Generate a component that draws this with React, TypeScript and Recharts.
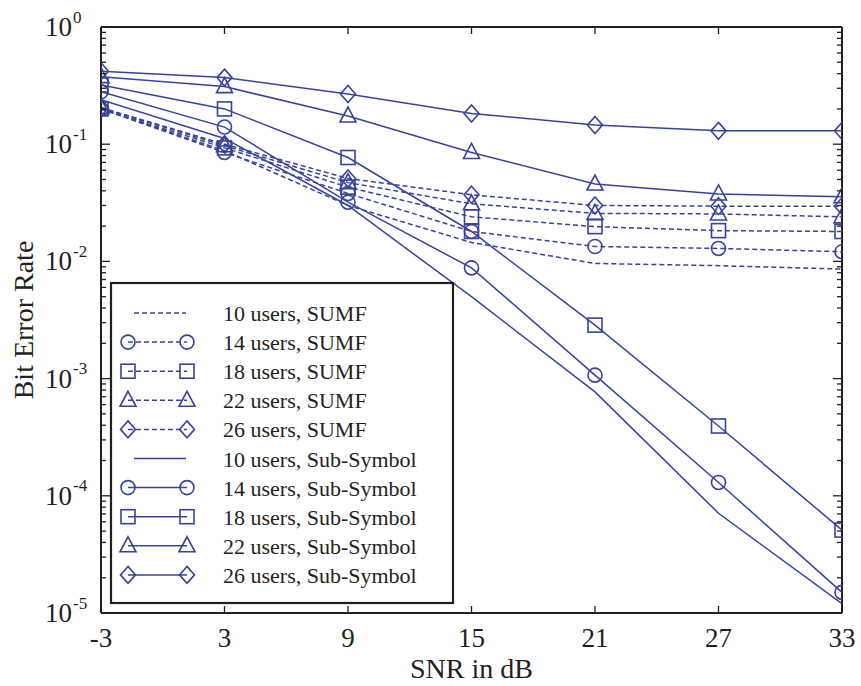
import React from 'react';
import { LineChart, Line, XAxis, YAxis, ReferenceLine } from 'recharts';

// SNR points (dB)
const snr = [-3, 3, 9, 15, 21, 27, 33];

// SUMF receiver
const sumf10 = [0.2, 0.088, 0.03, 0.0145, 0.0096, 0.0092, 0.0086];
const sumf14 = [0.2, 0.085, 0.038, 0.018, 0.0134, 0.0129, 0.0121];
const sumf18 = [0.2, 0.093, 0.043, 0.024, 0.0198, 0.0183, 0.018];
const sumf22 = [0.205, 0.097, 0.047, 0.031, 0.0257, 0.0254, 0.024];
const sumf26 = [0.205, 0.1, 0.051, 0.037, 0.03, 0.0296, 0.0296];

// Sub-Symbol receiver
const ss10 = [0.24, 0.112, 0.03, 0.005, 0.00077, 0.000071, 0.000012];
const ss14 = [0.28, 0.14, 0.032, 0.0088, 0.00107, 0.00013, 0.000015];
const ss18 = [0.32, 0.2, 0.077, 0.018, 0.00286, 0.000394, 0.000051];
const ss22 = [0.377, 0.31, 0.174, 0.085, 0.0457, 0.0376, 0.0356];
const ss26 = [0.42, 0.37, 0.268, 0.183, 0.146, 0.13, 0.13];

const xTicks = [-3, 3, 9, 15, 21, 27, 33];
const yMajor = [1e-5, 1e-4, 1e-3, 1e-2, 1e-1, 1];
const yExponents = ['-5', '-4', '-3', '-2', '-1', '0'];
const yMinor: number[] = [];
for (let k = -5; k < 0; k++) {
  for (let m = 2; m <= 9; m++) yMinor.push(m * Math.pow(10, k));
}
const yTicks = [...yMajor, ...yMinor].sort((a, b) => a - b);

const BLUE = '#38429e';
const INK = '#231f20';
const FONT = '"Liberation Serif", "Times New Roman", serif';

// layout
const W = 861;
const H = 686;
const M = { top: 27, right: 19, bottom: 0, left: 0 };
const Y_AXIS_W = 101;
const X_AXIS_H = 73;
const PLOT_LEFT = M.left + Y_AXIS_W;
const PLOT_RIGHT = W - M.right;
const PLOT_TOP = M.top;
const PLOT_BOTTOM = H - X_AXIS_H;

const data = snr.map((s, i) => ({
  snr: s,
  sumf10: sumf10[i],
  sumf14: sumf14[i],
  sumf18: sumf18[i],
  sumf22: sumf22[i],
  sumf26: sumf26[i],
  ss10: ss10[i],
  ss14: ss14[i],
  ss18: ss18[i],
  ss22: ss22[i],
  ss26: ss26[i],
}));

type Shape = 'none' | 'circle' | 'square' | 'triangle' | 'diamond';

const Marker = ({ shape, cx, cy }: { shape: Shape; cx: number; cy: number }) => {
  const common = { fill: 'none', stroke: BLUE, strokeWidth: 1.6 };
  if (shape === 'circle') return <circle cx={cx} cy={cy} r={7} {...common} />;
  if (shape === 'square') return <rect x={cx - 7} y={cy - 7} width={14} height={14} {...common} />;
  if (shape === 'triangle')
    return <polygon points={`${cx},${cy - 9} ${cx + 8},${cy + 6} ${cx - 8},${cy + 6}`} {...common} />;
  if (shape === 'diamond')
    return <polygon points={`${cx},${cy - 8.5} ${cx + 7.5},${cy} ${cx},${cy + 8.5} ${cx - 7.5},${cy}`} {...common} />;
  return null;
};

const makeDot = (shape: Shape) => (props: any) => {
  const { cx, cy, index } = props;
  if (cx == null || cy == null) return <g key={`${shape}-${index}`} />;
  return (
    <g key={`${shape}-${index}`}>
      <Marker shape={shape} cx={cx} cy={cy} />
    </g>
  );
};

const series = [
  { key: 'sumf10', label: '10 users, SUMF', shape: 'none' as Shape, dashed: true },
  { key: 'sumf14', label: '14 users, SUMF', shape: 'circle' as Shape, dashed: true },
  { key: 'sumf18', label: '18 users, SUMF', shape: 'square' as Shape, dashed: true },
  { key: 'sumf22', label: '22 users, SUMF', shape: 'triangle' as Shape, dashed: true },
  { key: 'sumf26', label: '26 users, SUMF', shape: 'diamond' as Shape, dashed: true },
  { key: 'ss10', label: '10 users, Sub-Symbol', shape: 'none' as Shape, dashed: false },
  { key: 'ss14', label: '14 users, Sub-Symbol', shape: 'circle' as Shape, dashed: false },
  { key: 'ss18', label: '18 users, Sub-Symbol', shape: 'square' as Shape, dashed: false },
  { key: 'ss22', label: '22 users, Sub-Symbol', shape: 'triangle' as Shape, dashed: false },
  { key: 'ss26', label: '26 users, Sub-Symbol', shape: 'diamond' as Shape, dashed: false },
];

// x tick: label below, inward tick marks at bottom and top of the box
const XTick = (props: any) => {
  const { x, payload } = props;
  return (
    <g>
      <line x1={x} x2={x} y1={PLOT_BOTTOM} y2={PLOT_BOTTOM - 7} stroke={INK} strokeWidth={1.3} />
      <line x1={x} x2={x} y1={PLOT_TOP} y2={PLOT_TOP + 7} stroke={INK} strokeWidth={1.3} />
      <text x={x} y={PLOT_BOTTOM + 34} textAnchor="middle" fontFamily={FONT} fontSize={27} fill={INK}>
        {payload.value}
      </text>
    </g>
  );
};

// y tick: 10^n labels on decades, inward ticks on both sides (minor ones shorter)
const YTick = (props: any) => {
  const { y, payload } = props;
  const idx = yMajor.findIndex((v) => Math.abs(Math.log10(v) - Math.log10(payload.value)) < 1e-6);
  const major = idx >= 0;
  const len = major ? 9 : 5;
  const lx = PLOT_LEFT - 29;
  return (
    <g>
      <line x1={PLOT_LEFT} x2={PLOT_LEFT + len} y1={y} y2={y} stroke={INK} strokeWidth={1.3} />
      <line x1={PLOT_RIGHT - len} x2={PLOT_RIGHT} y1={y} y2={y} stroke={INK} strokeWidth={1.3} />
      {major && (
        <>
          <text x={lx} y={y + 9} textAnchor="end" fontFamily={FONT} fontSize={27} fill={INK}>
            10
          </text>
          <text x={lx + 1} y={y - 4.5} textAnchor="start" fontFamily={FONT} fontSize={17} fill={INK}>
            {yExponents[idx]}
          </text>
        </>
      )}
    </g>
  );
};

const YTitle = () => (
  <text
    transform={`translate(33,${(PLOT_TOP + PLOT_BOTTOM) / 2}) rotate(-90)`}
    textAnchor="middle"
    fontFamily={FONT}
    fontSize={28}
    fill={INK}
  >
    Bit Error Rate
  </text>
);

const XTitle = () => (
  <text x={(PLOT_LEFT + PLOT_RIGHT) / 2} y={PLOT_BOTTOM + 65} textAnchor="middle" fontFamily={FONT} fontSize={28} fill={INK}>
    SNR in dB
  </text>
);

const LegendBox = () => {
  const left = 111;
  const top = 283;
  const rowY = (i: number) => top + 30 + i * 29.1;
  return (
    <svg width={W} height={H} style={{ position: 'absolute', left: 0, top: 0, pointerEvents: 'none' }}>
      <rect x={left} y={top} width={342} height={320} fill="#fff" stroke={INK} strokeWidth={2.2} />
      {series.map((s, i) => (
        <g key={s.key}>
          <line
            x1={s.shape === 'none' ? 134 : 128}
            x2={s.shape === 'none' ? 186 : 187}
            y1={rowY(i)}
            y2={rowY(i)}
            stroke={BLUE}
            strokeWidth={1.5}
            strokeDasharray={s.dashed ? '5 3' : undefined}
          />
          <Marker shape={s.shape} cx={128} cy={rowY(i)} />
          <Marker shape={s.shape} cx={187} cy={rowY(i)} />
          <text x={223} y={rowY(i) + 8} fontFamily={FONT} fontSize={22} fill={INK}>
            {s.label}
          </text>
        </g>
      ))}
    </svg>
  );
};

export default function App() {
  const frame = { stroke: INK, strokeWidth: 2 };
  return (
    <div style={{ position: 'absolute', left: 0, top: 0, width: W, height: H, background: '#fff' }}>
      <LineChart width={W} height={H} data={data} margin={M}>
        <XAxis
          xAxisId="x"
          dataKey="snr"
          type="number"
          domain={[-3, 33]}
          ticks={xTicks}
          interval={0}
          height={X_AXIS_H}
          tickSize={0}
          tickLine={false}
          axisLine={frame}
          tick={<XTick />}
          label={{ content: XTitle }}
          allowDataOverflow
        />
        <YAxis
          yAxisId="y"
          type="number"
          scale="log"
          domain={[1e-5, 1]}
          ticks={yTicks}
          interval={0}
          width={Y_AXIS_W}
          tickSize={0}
          tickMargin={29}
          tickLine={false}
          axisLine={frame}
          tick={<YTick />}
          label={{ content: YTitle }}
          allowDataOverflow
        />
        <ReferenceLine xAxisId="x" yAxisId="y" y={1} stroke={INK} strokeWidth={2} ifOverflow="visible" />
        <ReferenceLine xAxisId="x" yAxisId="y" x={33} stroke={INK} strokeWidth={2} ifOverflow="visible" />
        {series.map((s) => (
          <Line
            key={s.key}
            xAxisId="x"
            yAxisId="y"
            type="linear"
            dataKey={s.key}
            stroke={BLUE}
            strokeWidth={1.5}
            strokeDasharray={s.dashed ? '5 3' : undefined}
            dot={s.shape === 'none' ? false : makeDot(s.shape)}
            activeDot={false}
            isAnimationActive={false}
          />
        ))}
      </LineChart>
      <LegendBox />
    </div>
  );
}
